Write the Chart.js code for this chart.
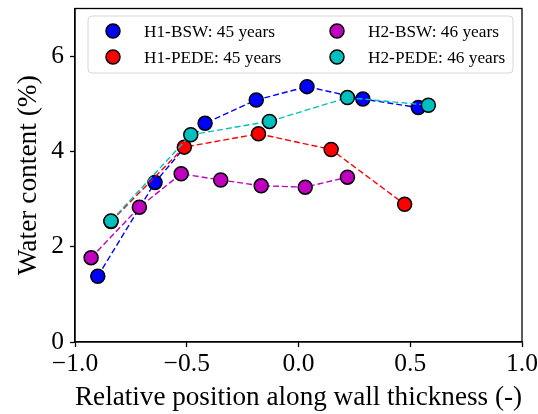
<!DOCTYPE html>
<html>
<head>
<meta charset="utf-8">
<script src="https://cdn.jsdelivr.net/npm/chart.js@4.4.1/dist/chart.umd.min.js"></script>
<style>
  html, body { margin: 0; padding: 0; background: #fff; }
  #wrap { width: 538px; height: 414px; }
</style>
</head>
<body>
<div id="wrap"><canvas id="c" width="538" height="414"></canvas></div>
<script>
// valores
const xTicks = [-1, -0.5, 0, 0.5, 1];
const yTicks = [0, 2, 4, 6];

const h1BswX = [-0.898, -0.642, -0.418, -0.189, 0.038, 0.288, 0.536];
const h1BswY = [1.38, 3.35, 4.59, 5.08, 5.36, 5.10, 4.92];
const h1PedeX = [-0.839, -0.511, -0.179, 0.146, 0.475];
const h1PedeY = [2.53, 4.09, 4.37, 4.04, 2.89];
const h2BswX = [-0.928, -0.712, -0.525, -0.348, -0.167, 0.03, 0.219];
const h2BswY = [1.77, 2.83, 3.53, 3.40, 3.28, 3.25, 3.46];
const h2PedeX = [-0.839, -0.482, -0.13, 0.219, 0.581];
const h2PedeY = [2.54, 4.35, 4.63, 5.13, 4.97];

const labels = ['H1-BSW: 45 years', 'H1-PEDE: 45 years', 'H2-BSW: 46 years', 'H2-PEDE: 46 years'];
const cores = ['#0000ff', '#ff0000', '#bf00bf', '#00bfbf'];

const SERIF = "'Liberation Serif', 'Times New Roman', serif";

function pares(xs, ys) { return xs.map((x, i) => ({ x: x, y: ys[i] })); }

function serie(i, xs, ys) {
  return {
    label: labels[i],
    data: pares(xs, ys),
    borderColor: cores[i],
    backgroundColor: cores[i],
    borderWidth: 1.4,
    borderDash: [6, 3],
    pointRadius: 7,
    pointBorderColor: '#000',
    pointBorderWidth: 1.5,
    pointBackgroundColor: cores[i],
    showLine: true,
    tension: 0,
    order: 4 - i
  };
}

// zera o padding automático dos eixos para fixar a área do gráfico
function semPadding(s) {
  s.paddingTop = 0; s.paddingBottom = 0; s.paddingLeft = 0; s.paddingRight = 0;
}

// moldura (4 lados)
const moldura = {
  id: 'moldura',
  afterDraw(chart) {
    const a = chart.chartArea, ctx = chart.ctx;
    ctx.save();
    ctx.strokeStyle = '#000';
    ctx.lineWidth = 1.3;
    ctx.strokeRect(a.left, a.top, a.right - a.left, a.bottom - a.top);
    ctx.restore();
  }
};

// legenda em 2 colunas dentro da área do gráfico
const legenda = {
  id: 'legenda',
  afterDraw(chart) {
    const ctx = chart.ctx;
    const bx = 88, by = 16, bw = 425, bh = 57, r = 4;
    ctx.save();
    ctx.beginPath();
    ctx.moveTo(bx + r, by);
    ctx.arcTo(bx + bw, by, bx + bw, by + bh, r);
    ctx.arcTo(bx + bw, by + bh, bx, by + bh, r);
    ctx.arcTo(bx, by + bh, bx, by, r);
    ctx.arcTo(bx, by, bx + bw, by, r);
    ctx.closePath();
    ctx.fillStyle = 'rgba(255,255,255,0.8)';
    ctx.fill();
    ctx.strokeStyle = '#d6d6d6';
    ctx.lineWidth = 1;
    ctx.stroke();

    const cols = [113, 337], rows = [31, 57];
    ctx.font = '17.3px ' + SERIF;
    ctx.textBaseline = 'middle';
    labels.forEach((txt, k) => {
      const cx = cols[Math.floor(k / 2)], cy = rows[k % 2];
      ctx.beginPath();
      ctx.arc(cx, cy, 7, 0, Math.PI * 2);
      ctx.fillStyle = cores[k];
      ctx.fill();
      ctx.lineWidth = 1.5;
      ctx.strokeStyle = '#000';
      ctx.stroke();
      ctx.fillStyle = '#000';
      ctx.fillText(txt, cx + 31, cy + 1);
    });
    ctx.restore();
  }
};

const fmt = (v) => (v < 0 ? '\u2212' : '') + Math.abs(v).toFixed(1);

new Chart(document.getElementById('c'), {
  type: 'scatter',
  data: {
    datasets: [
      serie(0, h1BswX, h1BswY),
      serie(1, h1PedeX, h1PedeY),
      serie(2, h2BswX, h2BswY),
      serie(3, h2PedeX, h2PedeY)
    ]
  },
  options: {
    responsive: false,
    animation: false,
    layout: { padding: { left: 0, top: 8, right: 16, bottom: 0 } },
    plugins: { legend: { display: false }, tooltip: { enabled: false } },
    scales: {
      x: {
        type: 'linear', min: -1, max: 1,
        afterBuildTicks: (s) => { s.ticks = xTicks.map((v) => ({ value: v })); },
        afterFit: (s) => { s.height = 72; semPadding(s); },
        grid: { drawOnChartArea: false, drawTicks: true, tickLength: 5, tickColor: '#000', tickWidth: 1.3 },
        border: { display: true, color: '#000', width: 1.3 },
        ticks: { color: '#000', font: { family: SERIF, size: 25.5 }, padding: 2, maxRotation: 0, callback: fmt },
        title: { display: true, text: 'Relative position along wall thickness (-)', color: '#000', font: { family: SERIF, size: 27.4 }, padding: { top: 0, bottom: 0 } }
      },
      y: {
        type: 'linear', min: 0, max: 7,
        afterBuildTicks: (s) => { s.ticks = yTicks.map((v) => ({ value: v })); },
        afterFit: (s) => { s.width = 75; semPadding(s); },
        grid: { drawOnChartArea: false, drawTicks: true, tickLength: 5, tickColor: '#000', tickWidth: 1.3 },
        border: { display: true, color: '#000', width: 1.3 },
        ticks: { color: '#000', font: { family: SERIF, size: 25.5 }, padding: 6, callback: (v) => String(v) },
        title: { display: true, text: 'Water content (%)', color: '#000', font: { family: SERIF, size: 27.4 }, padding: { top: 12, bottom: 0 } }
      }
    }
  },
  plugins: [moldura, legenda]
});
</script>
</body>
</html>
